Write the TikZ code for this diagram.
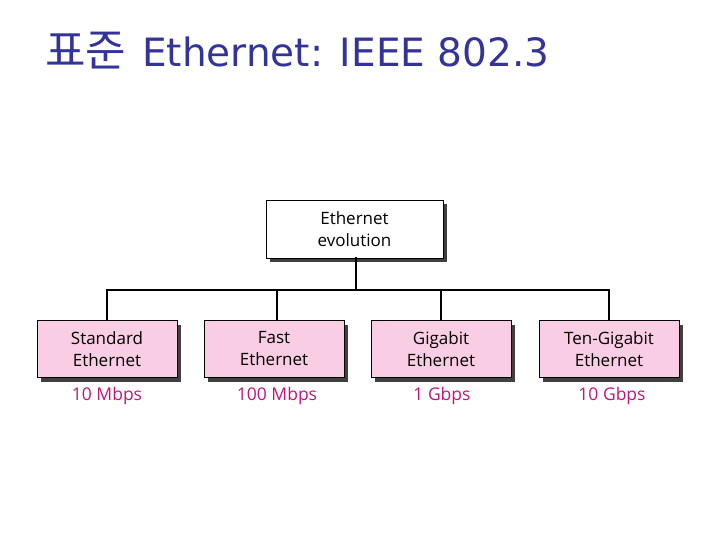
\documentclass[tikz,border=0pt]{standalone}
\usepackage{fontspec}
\setmainfont{DejaVu Sans}
\newfontfamily\boxfont{Open Sans}
\newfontfamily\cjk{Noto Sans CJK KR}
\usetikzlibrary{shadows}
\definecolor{titleblue}{HTML}{333399}
\definecolor{boxpink}{HTML}{F9CDE4}
\definecolor{speedmag}{HTML}{BE167C}
\tikzset{
  evobox/.style={draw=black, line width=0.8pt, fill=white, minimum width=177pt, minimum height=58pt,
     align=center, font=\boxfont\fontsize{17}{22}\selectfont, inner sep=0pt,
     drop shadow={shadow xshift=4pt, shadow yshift=-4pt, fill=black!75, opacity=1}},
  kindbox/.style={evobox, fill=boxpink, minimum width=140pt, minimum height=57pt},
  speed/.style={text=speedmag, font=\boxfont\fontsize{17.5}{20}\selectfont, inner sep=0pt},
  conn/.style={line width=2pt, line cap=rect}
}
\begin{document}
\begin{tikzpicture}[x=1pt,y=-1pt]
\useasboundingbox (0,0) rectangle (720,540);
\node[anchor=base west, text=titleblue, inner sep=0pt, font=\fontsize{39}{44}\selectfont] (title) at (45,67)
  {\makebox[97pt][l]{\cjk\fontsize{44}{48}\selectfont 표준}Ethernet: IEEE 802.3};
\node[evobox] (top) at (354.5,229) {Ethernet\\evolution};
\node[kindbox] (std) at (107,349) {Standard\\Ethernet};
\node[kindbox] (fast) at (274,349) {Fast\\Ethernet};
\node[kindbox] (giga) at (441,349) {Gigabit\\Ethernet};
\node[kindbox] (ten) at (609,349) {Ten-Gigabit\\Ethernet};
\node[speed] (s1) at (107,396) {10 Mbps};
\node[speed] (s2) at (277,396) {100 Mbps};
\node[speed] (s3) at (442,396) {1 Gbps};
\node[speed] (s4) at (612,396) {10 Gbps};
\coordinate (bus) at (0,290);
\draw[conn] (std.north) -- (std.north |- bus) -- (ten.north |- bus) -- (ten.north);
\draw[conn] ([xshift=1pt]top.south) -- ([xshift=1pt]top.south |- bus);
\draw[conn] ([xshift=3pt]fast.north) -- ([xshift=3pt]fast.north |- bus);
\draw[conn] (giga.north) -- (giga.north |- bus);
\end{tikzpicture}
\end{document}
